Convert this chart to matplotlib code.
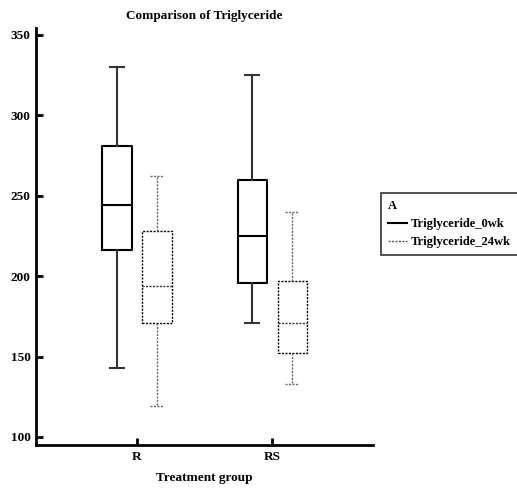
import matplotlib
matplotlib.use("Agg")
import matplotlib.pyplot as plt
from matplotlib.lines import Line2D

plt.rcParams['font.family'] = ['Liberation Serif', 'DejaVu Serif']
plt.rcParams['font.weight'] = 'bold'

groups = ['R', 'RS']
series = ['Triglyceride_0wk', 'Triglyceride_24wk']

# five-number summaries: low whisker, q1, median, q3, high whisker
tg_0wk = [[143, 216, 244, 281, 330],
          [171, 196, 225, 260, 325]]
tg_24wk = [[119, 171, 194, 228, 262],
           [133, 152, 171, 197, 240]]

fig = plt.figure(figsize=(5.17, 4.92), dpi=100)
ax = fig.add_axes([0.0696, 0.0955, 0.652, 0.847])

offset = 0.148
width = 0.215

def stats(vals, label):
    lo, q1, med, q3, hi = vals
    return dict(whislo=lo, q1=q1, med=med, q3=q3, whishi=hi, fliers=[], label=label)

pos0 = [i + 1 - offset for i in range(len(groups))]
pos24 = [i + 1 + offset for i in range(len(groups))]

ax.bxp([stats(v, g) for v, g in zip(tg_0wk, groups)], positions=pos0, widths=width,
       showfliers=False, manage_ticks=False,
       boxprops=dict(color='black', linewidth=1.5),
       medianprops=dict(color='black', linewidth=1.5),
       whiskerprops=dict(color='#333333', linewidth=1.5),
       capprops=dict(color='#333333', linewidth=1.5),
       capwidths=0.104)
ax.bxp([stats(v, g) for v, g in zip(tg_24wk, groups)], positions=pos24, widths=width,
       showfliers=False, manage_ticks=False,
       boxprops=dict(color='black', linewidth=1.0, linestyle=(0, (1.5, 1))),
       medianprops=dict(color='#333333', linewidth=1.0, linestyle=(0, (1.5, 1))),
       whiskerprops=dict(color='#666666', linewidth=1.0, linestyle=(0, (1.5, 1))),
       capprops=dict(color='#666666', linewidth=1.0, linestyle=(0, (1.5, 1))),
       capwidths=0.104)

ax.set_xlim(0.252, 2.748)
ax.set_ylim(95, 354)
ax.set_xticks([1, 2])
ax.set_xticklabels(groups)
ax.set_yticks([100, 150, 200, 250, 300, 350])

for s in ['top', 'right']:
    ax.spines[s].set_visible(False)
for s in ['left', 'bottom']:
    ax.spines[s].set_linewidth(2)
ax.tick_params(direction='in', length=5, width=2, labelsize=9.5, pad=4)

ax.set_title('Comparison of Triglyceride', fontsize=9.5, fontweight='bold', pad=7)
ax.set_xlabel('Treatment group', fontsize=9.5, fontweight='bold', labelpad=7)

handles = [Line2D([], [], color='black', linewidth=1.5),
           Line2D([], [], color='#555555', linewidth=1.0, linestyle=(0, (1.5, 1)))]
leg = fig.legend(handles, series, title='A', loc='upper left',
                 bbox_to_anchor=(381 / 517, 1 - 193 / 492), fontsize=9,
                 title_fontsize=9, frameon=True, fancybox=False, edgecolor='black',
                 handlelength=1.5, handletextpad=0.35, borderpad=0.55, labelspacing=0.5,
                 borderaxespad=0)
leg._legend_box.align = 'left'
leg.get_frame().set_linewidth(1.2)
leg.get_title().set_fontweight('bold')

fig.savefig('out.png', dpi=100)
